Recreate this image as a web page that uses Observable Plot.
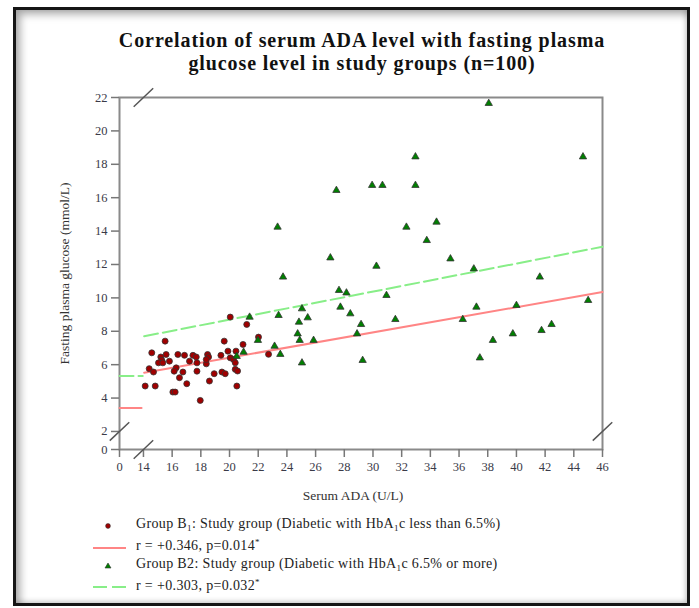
<!DOCTYPE html>
<html>
<head>
<meta charset="utf-8">
<script src="https://cdn.jsdelivr.net/npm/d3@7"></script>
<script src="https://cdn.jsdelivr.net/npm/@observablehq/plot@0.6"></script>
<style>
  html, body { margin: 0; padding: 0; background: #fff; }
  body { width: 699px; height: 608px; position: relative; overflow: hidden; font-family: "Liberation Serif", "DejaVu Serif", serif; }
  #outer { position: absolute; left: 13px; top: 7px; width: 671px; height: 593px; border: 3px solid #151515; box-shadow: inset 4px 4px 9px rgba(0,0,0,0.35), inset -2px -2px 5px rgba(0,0,0,0.15); }
  #title { position: absolute; left: 0; top: 29px; width: 724px; text-align: center; font-weight: bold; font-size: 20px; letter-spacing: 0.9px; line-height: 23px; color: #111; }
  #chart { position: absolute; left: 0; top: 80px; }
  #legend { position: absolute; left: 90px; top: 516px; font-size: 14px; letter-spacing: 0.35px; color: #222; }
  .row { position: absolute; left: 0; height: 20px; width: 560px; white-space: nowrap; }
  .row svg { position: absolute; left: 0; top: 0; }
  .row span { position: absolute; left: 46px; top: 0px; }
  sub { font-size: 9px; vertical-align: -3px; }
  sup { font-size: 9px; vertical-align: 5px; }
</style>
</head>
<body>
<div id="outer"></div>
<div id="title">Correlation of serum ADA level with fasting plasma<br>glucose level in study groups (n=100)</div>
<div id="chart"></div>
<div id="legend">
  <div class="row" style="top:0px"><svg width="40" height="20"><circle cx="18" cy="10" r="2.4" fill="#a00000" stroke="#333" stroke-width="0.6"/></svg><span>Group B<sub>1</sub>: Study group (Diabetic with HbA<sub>1</sub>c less than 6.5%)</span></div>
  <div class="row" style="top:21px"><svg width="40" height="20"><line x1="3" x2="36" y1="11" y2="11" stroke="#ff8585" stroke-width="2"/></svg><span>r = +0.346, p=0.014<sup>*</sup></span></div>
  <div class="row" style="top:40px"><svg width="40" height="20"><path d="M18,7 L21,12 L15,12 Z" fill="#008000" stroke="#333" stroke-width="0.6"/></svg><span>Group B2: Study group (Diabetic with HbA<sub>1</sub>c 6.5% or more)</span></div>
  <div class="row" style="top:61px"><svg width="40" height="20"><line x1="3" x2="36" y1="10" y2="10" stroke="#88ee88" stroke-width="2" stroke-dasharray="14,5"/></svg><span>r = +0.303, p=0.032<sup>*</sup></span></div>
</div>
<script>
// ---- data ----
const groupB1_ada = [20.05,21.2,15.51,19.63,20.94,14.58,15.58,16.4,16.86,17.45,17.68,18.47,18.54,19.4,19.89,20.45,15.21,15.28,15.05,15.35,15.81,17.21,17.73,18.38,18.38,20.05,20.28,20.4,14.4,14.7,16.28,16.14,16.75,17.73,18.93,19.47,19.7,20.4,20.56,16.51,18.6,17.02,14.12,14.82,20.51,16.05,16.21,17.96,22.02,22.72];
const groupB1_fpg = [8.85,8.41,7.41,7.41,7.21,6.71,6.61,6.61,6.56,6.56,6.46,6.61,6.46,6.56,6.81,6.81,6.46,6.26,6.11,6.11,6.21,6.21,6.11,6.05,6.31,6.41,6.31,6.11,5.76,5.56,5.81,5.61,5.56,5.61,5.46,5.56,5.46,5.72,5.62,5.22,5.02,4.86,4.72,4.72,4.72,4.36,4.36,3.86,7.65,6.62];

const groupB2_ada = [23.35,27.45,27.03,23.73,38.07,32.96,44.64,29.94,30.66,32.96,32.33,34.43,33.75,35.4,30.24,37.03,41.63,27.63,28.15,25.05,23.42,21.4,25.45,27.73,28.42,24.84,29.17,24.75,24.89,25.86,28.89,21.98,23.14,23.54,20.98,25.05,29.28,30.94,31.56,37.21,40.0,45.0,36.26,38.36,39.75,41.75,42.45,37.45,20.5];
const groupB2_fpg = [14.24,16.44,12.4,11.25,21.65,18.45,18.45,16.74,16.74,16.74,14.24,14.54,13.44,12.34,11.9,11.74,11.25,10.45,10.3,9.35,8.95,8.85,8.81,9.45,9.05,8.55,8.41,7.85,7.46,7.46,7.85,7.46,7.11,6.62,6.75,6.11,6.26,10.15,8.71,9.45,9.55,9.85,8.71,7.46,7.85,8.05,8.41,6.41,6.5];

// fitted lines (endpoints) and the stubs drawn in the axis-break zone
const fitB1_ada = [14.05, 46];
const fitB1_fpg = [5.52, 10.35];
const fitB2_ada = [14.05, 46];
const fitB2_fpg = [7.7, 13.06];
const stubB1_ada = [12.33, 13.87];
const stubB1_fpg = [3.4, 3.4];
const stubB2_ada = [12.33, 13.95];
const stubB2_fpg = [5.32, 5.32];

// axes
const xTickValues = [12.33, 14, 16, 18, 20, 22, 24, 26, 28, 30, 32, 34, 36, 38, 40, 42, 44, 46];
const xTickLabels = ["0", "14", "16", "18", "20", "22", "24", "26", "28", "30", "32", "34", "36", "38", "40", "42", "44", "46"];
const yTickValues = [0.92, 2, 4, 6, 8, 10, 12, 14, 16, 18, 20, 22];
const yTickLabels = ["0", "2", "4", "6", "8", "10", "12", "14", "16", "18", "20", "22"];
const xDomain = [12.33, 46];
const yDomain = [0.92, 22];
const xTitle = "Serum ADA (U/L)";
const yTitle = "Fasting plasma glucose (mmol/L)";
// axis-break positions
const breakX = [14];
const breakY = [2];

// ---- build tables ----
const b1 = groupB1_ada.map((a, i) => ({ada: a, fpg: groupB1_fpg[i]}));
const b2 = groupB2_ada.map((a, i) => ({ada: a, fpg: groupB2_fpg[i]}));
const pts = (xs, ys) => xs.map((a, i) => ({ada: a, fpg: ys[i]}));
const xLab = d3.scaleOrdinal(xTickValues, xTickLabels);
const yLab = d3.scaleOrdinal(yTickValues, yTickLabels);

const hx = 0.68, hy = 0.55;
const slashes = [
  ...breakX.map(b => ({x1: b - hx, x2: b + hx, y1: yDomain[0] - hy, y2: yDomain[0] + hy})),
  ...breakX.map(b => ({x1: b - hx, x2: b + hx, y1: yDomain[1] - hy, y2: yDomain[1] + hy})),
  ...breakY.map(b => ({x1: xDomain[0] - hx, x2: xDomain[0] + hx, y1: b - hy, y2: b + hy})),
  ...breakY.map(b => ({x1: xDomain[1] - hx, x2: xDomain[1] + hx, y1: b - hy, y2: b + hy}))
];

const chart = Plot.plot({
  width: 699,
  height: 430,
  marginLeft: 119,
  marginRight: 97,
  marginTop: 17,
  marginBottom: 61,
  style: {fontFamily: "'Liberation Serif', serif", fontSize: "12.5px", color: "#333", background: "transparent"},
  x: {domain: xDomain, nice: false},
  y: {domain: yDomain, nice: false},
  marks: [
    Plot.frame({stroke: "#8a8a8a", strokeWidth: 2}),
    Plot.axisX(xTickValues, {tickSize: 8, tickPadding: 5, stroke: "#777", strokeWidth: 1.5, tickFormat: d => xLab(d), fill: "#3a3a48", label: null}),
    Plot.axisY(yTickValues, {tickSize: 8, tickPadding: 4, stroke: "#777", strokeWidth: 1.5, tickFormat: d => yLab(d), fill: "#3a3a48", label: null}),
    Plot.text([xTitle], {frameAnchor: "bottom", dy: 50, dx: -8, text: d => d, fontSize: 13.5, fill: "#333", lineAnchor: "bottom"}),
    Plot.text([yTitle], {frameAnchor: "left", dx: -55, rotate: -90, textAnchor: "middle", text: d => d, fontSize: 13.5, fill: "#333"}),
    Plot.link(slashes, {x1: "x1", x2: "x2", y1: "y1", y2: "y2", stroke: "#555", strokeWidth: 1.5}),
    Plot.line(pts(stubB1_ada, stubB1_fpg), {x: "ada", y: "fpg", stroke: "#ff8585", strokeWidth: 2}),
    Plot.line(pts(stubB2_ada, stubB2_fpg), {x: "ada", y: "fpg", stroke: "#88ee88", strokeWidth: 2, strokeDasharray: "14,5"}),
    Plot.line(pts(fitB1_ada, fitB1_fpg), {x: "ada", y: "fpg", stroke: "#ff8585", strokeWidth: 2}),
    Plot.line(pts(fitB2_ada, fitB2_fpg), {x: "ada", y: "fpg", stroke: "#88ee88", strokeWidth: 2, strokeDasharray: "14,5"}),
    Plot.dot(b1, {x: "ada", y: "fpg", r: 3, fill: "#a00000", stroke: "#333", strokeWidth: 0.8}),
    Plot.dot(b2, {x: "ada", y: "fpg", r: 2.7, symbol: "triangle", fill: "#008000", stroke: "#333", strokeWidth: 0.8})
  ]
});
document.getElementById("chart").appendChild(chart);
</script>
</body>
</html>
